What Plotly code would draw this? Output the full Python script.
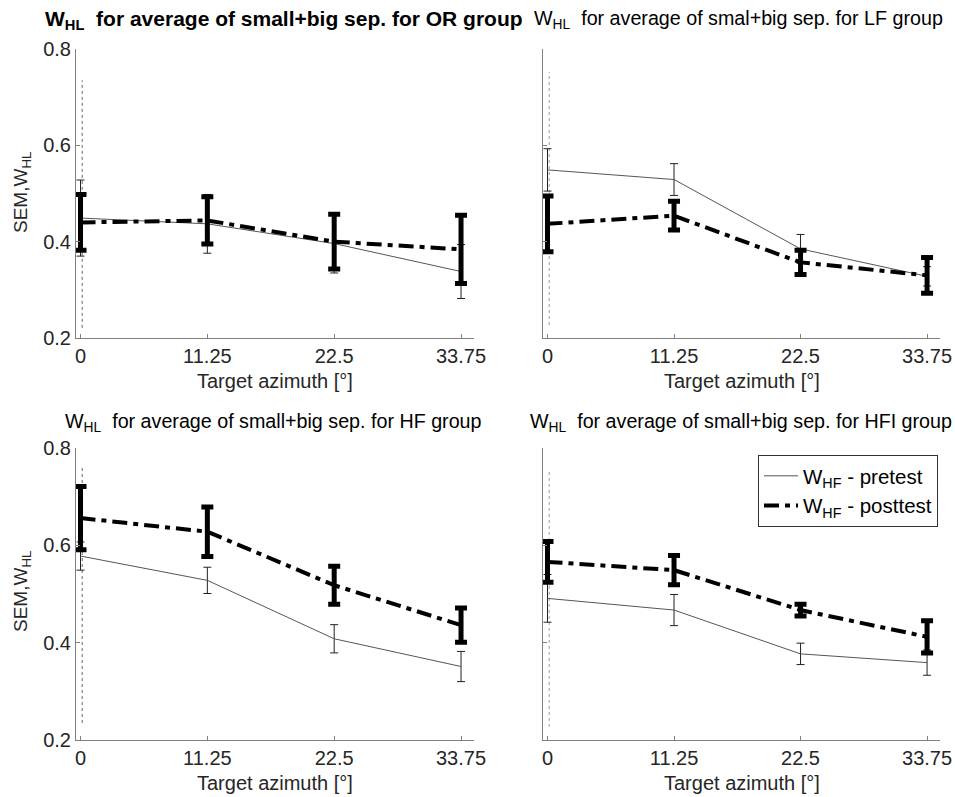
import plotly.graph_objects as go

# ---------------- data ----------------
azimuth = [0, 11.25, 22.5, 33.75]
x_ticks = [0, 11.25, 22.5, 33.75]
x_ticktext = ["0", "11.25", "22.5", "33.75"]
y_ticks = [0.2, 0.4, 0.6, 0.8]
y_ticktext = ["0.2", "0.4", "0.6", "0.8"]

groups = ["OR", "LF", "HF", "HFI"]

# OR group
or_pre = [0.449, 0.437, 0.396, 0.338]
or_pre_err = [0.079, 0.061, 0.061, 0.056]
or_post = [0.440, 0.444, 0.400, 0.384]
or_post_err = [0.058, 0.049, 0.057, 0.071]

# LF group
lf_pre = [0.549, 0.529, 0.385, 0.328]
lf_pre_err = [0.044, 0.033, 0.030, 0.020]
lf_post = [0.437, 0.454, 0.357, 0.330]
lf_post_err = [0.058, 0.030, 0.025, 0.037]

# HF group
hf_pre = [0.578, 0.528, 0.408, 0.351]
hf_pre_err = [0.029, 0.027, 0.029, 0.031]
hf_post = [0.656, 0.628, 0.518, 0.436]
hf_post_err = [0.065, 0.051, 0.039, 0.035]

# HFI group
hfi_pre = [0.491, 0.467, 0.377, 0.359]
hfi_pre_err = [0.049, 0.032, 0.022, 0.026]
hfi_post = [0.566, 0.549, 0.467, 0.412]
hfi_post_err = [0.042, 0.030, 0.012, 0.033]

# dotted vertical guide near 0
guide_x = 0.15
guide_lo = [0.221, 0.227, 0.235, 0.227]
guide_hi = [0.735, 0.752, 0.761, 0.753]

titles = [
    "<b>W<sub>HL</sub>  for average of small+big sep. for OR group</b>",
    "W<sub>HL</sub>  for average of smal+big sep. for LF group",
    "W<sub>HL</sub>  for average of small+big sep. for HF group",
    "W<sub>HL</sub>  for average of small+big sep. for HFI group",
]
legend_pre = "W<sub>HF</sub> - pretest"
legend_post = "W<sub>HF</sub> - posttest"
x_title = "Target azimuth [°]"
y_title = "SEM,W<sub>HL</sub>"

pre_all = [or_pre, lf_pre, hf_pre, hfi_pre]
pre_err_all = [or_pre_err, lf_pre_err, hf_pre_err, hfi_pre_err]
post_all = [or_post, lf_post, hf_post, hfi_post]
post_err_all = [or_post_err, lf_post_err, hf_post_err, hfi_post_err]

# ---------------- layout geometry ----------------
W, H = 955, 797
FONT = "Arial, Liberation Sans, sans-serif"
TXT = "#262626"

# pixel boxes: (left, right, top, bottom)
boxes = [
    (76, 474, 49, 338),
    (543, 940, 49, 338),
    (76, 474, 448, 740),
    (543, 940, 448, 740),
]
title_pos = [(43, 20), (532, 20), (63, 422), (528, 422)]
title_size = [21, 19.7, 19.7, 19.7]

fig = go.Figure()
layout = dict(
    width=W, height=H,
    margin=dict(l=0, r=0, t=0, b=0),
    paper_bgcolor="white", plot_bgcolor="white",
    font=dict(family=FONT, size=19, color=TXT),
    showlegend=True,
    legend=dict(
        x=758 / W, y=1 - 455 / H, xanchor="left", yanchor="top",
        bgcolor="white", bordercolor="#333333", borderwidth=1,
        font=dict(family=FONT, size=20.5, color="black"),
        tracegroupgap=0, itemwidth=34,
    ),
)
annotations = []

for i in range(4):
    l, r, t, b = boxes[i]
    xa = "x" if i == 0 else f"x{i+1}"
    ya = "y" if i == 0 else f"y{i+1}"
    xkey = "xaxis" if i == 0 else f"xaxis{i+1}"
    ykey = "yaxis" if i == 0 else f"yaxis{i+1}"
    layout[xkey] = dict(
        domain=[l / W, r / W], anchor=ya,
        range=[-0.4, 34.9], tickvals=x_ticks, ticktext=x_ticktext,
        ticks="inside", ticklen=4, tickcolor="#808080",
        showline=True, linecolor="#808080", linewidth=1,
        showgrid=False, zeroline=False, automargin=False,
        tickfont=dict(family=FONT, size=20, color=TXT),
    )
    layout[ykey] = dict(
        domain=[1 - b / H, 1 - t / H], anchor=xa,
        range=[0.2, 0.8], tickvals=y_ticks, ticktext=y_ticktext,
        ticks="inside", ticklen=4, tickcolor="#808080",
        showline=True, linecolor="#808080", linewidth=1,
        showgrid=False, zeroline=False, automargin=False,
        showticklabels=(i % 2 == 0),
        tickfont=dict(family=FONT, size=20, color=TXT),
    )

    # dotted guide
    fig.add_trace(go.Scatter(
        x=[guide_x, guide_x], y=[guide_lo[i], guide_hi[i]],
        mode="lines",
        line=dict(color="#666666" if i % 2 == 0 else "#9a9a9a", width=1, dash="dot"),
        showlegend=False, hoverinfo="skip", xaxis=xa, yaxis=ya,
    ))
    # pretest
    fig.add_trace(go.Scatter(
        x=azimuth, y=pre_all[i], mode="lines",
        name=legend_pre, legendgroup="pre", showlegend=(i == 0),
        line=dict(color="#555555", width=1),
        error_y=dict(type="data", array=pre_err_all[i], visible=True,
                     color="#222222", thickness=1, width=4),
        xaxis=xa, yaxis=ya,
    ))
    # posttest
    fig.add_trace(go.Scatter(
        x=azimuth, y=post_all[i], mode="lines",
        name=legend_post, legendgroup="post", showlegend=(i == 0),
        line=dict(color="black", width=4, dash="15px,6px,5px,6px"),
        error_y=dict(type="data", array=post_err_all[i], visible=True,
                     color="black", thickness=5, width=6),
        xaxis=xa, yaxis=ya,
    ))

    # title
    tx, ty = title_pos[i]
    annotations.append(dict(
        text=titles[i], xref="paper", yref="paper",
        x=tx / W, y=1 - ty / H, xanchor="left", yanchor="middle",
        showarrow=False, font=dict(family=FONT, size=title_size[i], color="black"),
    ))
    # x title
    annotations.append(dict(
        text=x_title, xref="paper", yref="paper",
        x=(l + r) / 2 / W, y=1 - (b + 43) / H, xanchor="center", yanchor="middle",
        showarrow=False, font=dict(family=FONT, size=20, color=TXT),
    ))
    # y title (left column only)
    if i % 2 == 0:
        annotations.append(dict(
            text=y_title, xref="paper", yref="paper", textangle=-90,
            x=22 / W, y=1 - (t + 144) / H, xanchor="center", yanchor="middle",
            showarrow=False, font=dict(family=FONT, size=19, color=TXT),
        ))

layout["annotations"] = annotations
fig.update_layout(**layout)
fig.write_html("out.html")
